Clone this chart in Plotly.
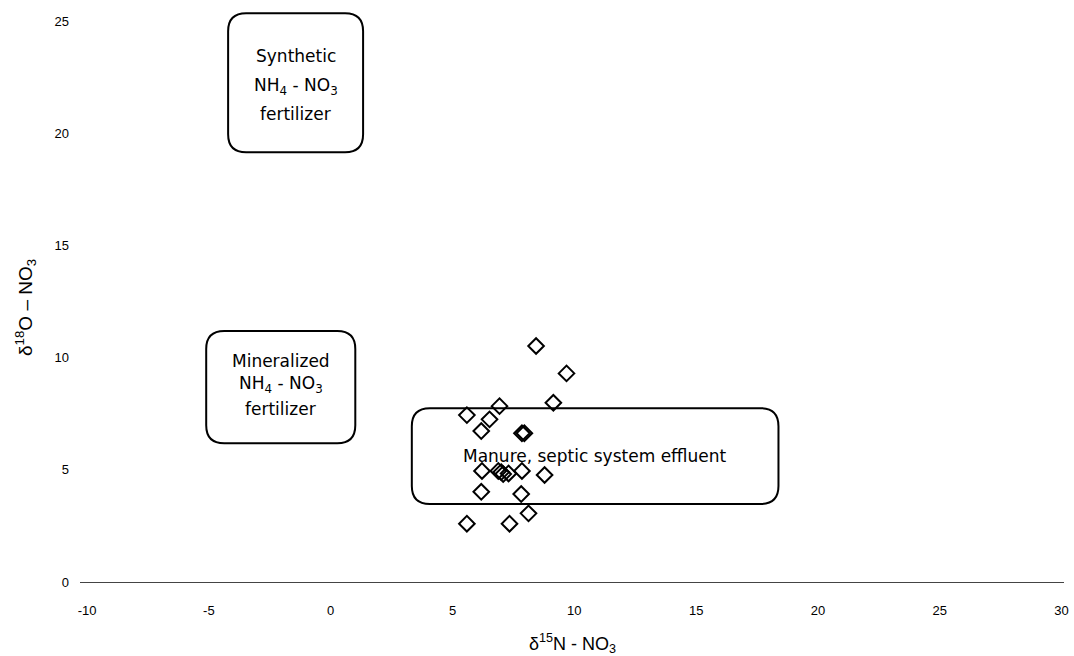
import plotly.graph_objects as go

# Sample data: delta15N-NO3 (x) and delta18O-NO3 (y)
d15n = [8.43, 9.68, 9.14, 6.93, 5.59, 6.52, 6.18, 7.85, 7.95, 6.21, 6.88, 7.00,
        7.08, 7.30, 7.85, 8.78, 6.18, 7.82, 8.12, 5.59, 7.34]
d18o = [10.52, 9.30, 7.99, 7.84, 7.44, 7.25, 6.73, 6.63, 6.63, 4.95, 4.95, 4.90,
        4.81, 4.84, 4.95, 4.77, 4.02, 3.92, 3.06, 2.60, 2.60]

# Source fields (rounded boxes): x0, x1, y0, y1 in data units
box_names = ["synthetic", "mineralized", "manure"]
box_x0 = [-4.21, -5.11, 3.33]
box_x1 = [1.33, 1.01, 18.38]
box_y0 = [19.16, 6.19, 3.48]
box_y1 = [25.36, 11.19, 7.75]
box_labels = [
    ["Synthetic", "NH<sub>4</sub> - NO<sub>3</sub>", "fertilizer"],
    ["Mineralized", "NH<sub>4</sub> - NO<sub>3</sub>", "fertilizer"],
    ["Manure, septic system effluent"],
]
box_line_shifts = [[27, -4, -31], [26, 3, -22], [0]]

x_ticks = [-10, -5, 0, 5, 10, 15, 20, 25, 30]
y_ticks = [0, 5, 10, 15, 20, 25]

X_RANGE = [-10.29, 30.1]
Y_RANGE = [0, 25.5]
W, H = 1074, 656
ML, MR, MT, MB = 80, 10, 10, 74
pxx = (W - ML - MR) / (X_RANGE[1] - X_RANGE[0])
pxy = (H - MT - MB) / (Y_RANGE[1] - Y_RANGE[0])


def rounded_path(x0, x1, y0, y1, r_px=18):
    rx = r_px / pxx
    ry = r_px / pxy
    return (f"M {x0+rx},{y0} L {x1-rx},{y0} Q {x1},{y0} {x1},{y0+ry} "
            f"L {x1},{y1-ry} Q {x1},{y1} {x1-rx},{y1} "
            f"L {x0+rx},{y1} Q {x0},{y1} {x0},{y1-ry} "
            f"L {x0},{y0+ry} Q {x0},{y0} {x0+rx},{y0} Z")


fig = go.Figure()
fig.add_trace(go.Scatter(
    x=d15n, y=d18o, mode="markers",
    marker=dict(symbol="diamond-open", size=12, color="black",
                line=dict(color="black", width=2)),
    showlegend=False,
))

shapes = []
annotations = []
for i in range(len(box_names)):
    shapes.append(dict(type="path", xref="x", yref="y",
                       path=rounded_path(box_x0[i], box_x1[i], box_y0[i], box_y1[i]),
                       line=dict(color="black", width=2), fillcolor="rgba(0,0,0,0)",
                       layer="below"))
    cx = (box_x0[i] + box_x1[i]) / 2
    cy = (box_y0[i] + box_y1[i]) / 2
    for lab, sh in zip(box_labels[i], box_line_shifts[i]):
        annotations.append(dict(x=cx, y=cy, xref="x", yref="y", text=lab,
                                showarrow=False, yshift=sh,
                                font=dict(family="DejaVu Sans", size=17,
                                          color="black")))

# Axis titles
annotations.append(dict(x=0.5, y=0, xref="paper", yref="paper",
                        text="δ<sup>15</sup>N - NO<sub>3</sub>", showarrow=False,
                        yshift=-61, yanchor="middle",
                        font=dict(family="Liberation Sans, Arial", size=18, color="black")))
annotations.append(dict(x=0, y=0.5, xref="paper", yref="paper",
                        text="δ<sup>18</sup>O – NO<sub>3</sub>", showarrow=False,
                        xshift=-55, yshift=-12, xanchor="center", textangle=-90,
                        font=dict(family="Liberation Sans, Arial", size=19, color="black")))

fig.update_layout(
    width=W, height=H,
    margin=dict(l=ML, r=MR, t=MT, b=MB, autoexpand=False),
    plot_bgcolor="white", paper_bgcolor="white",
    shapes=shapes, annotations=annotations,
    xaxis=dict(range=X_RANGE, tickvals=x_ticks, ticktext=[str(v) for v in x_ticks],
               showgrid=False, zeroline=False, showline=True, linecolor="#444",
               linewidth=1, ticks="", ticklabelstandoff=16,
               tickfont=dict(family="Liberation Sans, Arial", size=13, color="black")),
    yaxis=dict(range=Y_RANGE, tickvals=y_ticks, ticktext=[str(v) for v in y_ticks],
               showgrid=False, zeroline=False, showline=False, ticks="",
               ticklabelstandoff=10,
               tickfont=dict(family="Liberation Sans, Arial", size=13, color="black")),
)

fig.write_html("out.html", config={"displayModeBar": False},
               post_script="document.body.style.margin='0';document.body.style.padding='0';")
